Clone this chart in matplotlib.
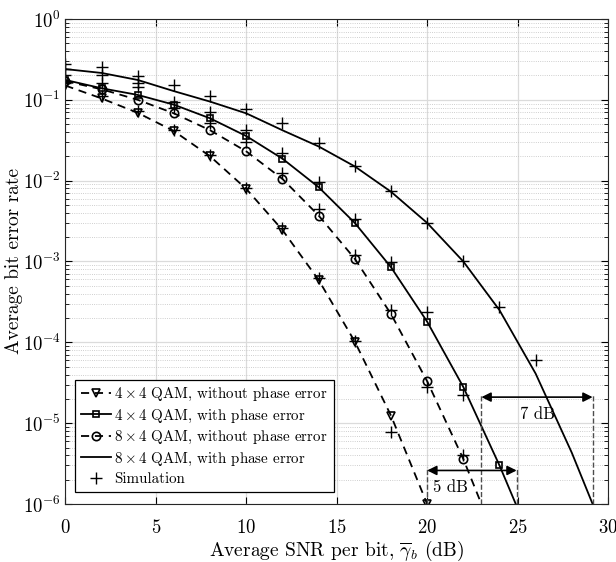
import matplotlib.pyplot as plt
from matplotlib.lines import Line2D

plt.rcParams['font.family'] = 'serif'
plt.rcParams['font.serif'] = ['cmr10']
plt.rcParams['mathtext.fontset'] = 'cm'
plt.rcParams['axes.unicode_minus'] = False
plt.rcParams['axes.formatter.use_mathtext'] = True

# theory curves
tri_snr = [0, 2, 4, 6, 8, 10, 12, 14, 16, 18, 20]
tri_ber = [0.15, 0.104, 0.069, 0.041, 0.020, 0.0079, 0.00245, 5.9e-4, 1.02e-4, 1.24e-5, 1.0e-6]

sq_snr = [0, 2, 4, 6, 8, 10, 12, 14, 16, 18, 20, 22, 24, 24.9]
sq_ber = [0.176, 0.139, 0.115, 0.087, 0.059, 0.0356, 0.0187, 0.0083, 0.0030, 8.5e-4, 1.8e-4, 2.8e-5, 3.0e-6, 1.0e-6]

circ_snr = [0, 2, 4, 6, 8, 10, 12, 14, 16, 18, 20, 22, 23]
circ_ber = [0.17, 0.135, 0.10, 0.068, 0.042, 0.023, 0.0105, 0.0037, 1.08e-3, 2.24e-4, 3.3e-5, 3.6e-6, 1.0e-6]

top_snr = [0, 2, 4, 6, 8, 10, 12, 14, 16, 18, 20, 22, 24, 26, 28, 29.15]
top_ber = [0.24, 0.215, 0.176, 0.128, 0.095, 0.068, 0.042, 0.0265, 0.015, 0.0073, 0.003, 1.0e-3, 2.5e-4, 4.1e-5, 4.3e-6, 1.0e-6]

# simulation points
sim_tri_snr = [0, 2, 4, 6, 8, 10, 12, 14, 16, 18]
sim_tri_ber = [0.16, 0.11, 0.072, 0.042, 0.021, 0.0082, 0.0026, 6.2e-4, 1.05e-4, 7.8e-6]
sim_sq_snr = [0, 2, 4, 6, 8, 10, 12, 14, 16, 18, 20, 22]
sim_sq_ber = [0.24, 0.203, 0.16, 0.095, 0.071, 0.042, 0.022, 0.0097, 0.0034, 9.9e-4, 2.4e-4, 2.2e-5]
sim_circ_snr = [0, 2, 4, 6, 8, 10, 12, 14, 16, 18, 20, 22]
sim_circ_ber = [0.20, 0.16, 0.143, 0.079, 0.051, 0.030, 0.0125, 0.0045, 1.2e-3, 2.5e-4, 2.8e-5, 4.0e-6]
sim_top_snr = [0, 2, 4, 6, 8, 10, 12, 14, 16, 18, 20, 22, 24, 26]
sim_top_ber = [0.28, 0.257, 0.197, 0.153, 0.111, 0.076, 0.051, 0.029, 0.0152, 0.0075, 0.003, 1.0e-3, 2.7e-4, 6.1e-5]

labels = [r'$4\times4$ QAM, without phase error',
          r'$4\times4$ QAM, with phase error',
          r'$8\times4$ QAM, without phase error',
          r'$8\times4$ QAM, with phase error',
          'Simulation']

fig = plt.figure(figsize=(6.16, 5.62), dpi=100)
ax = fig.add_axes([0.1063, 0.1032, 0.8807, 0.863])

lw = 1.3
dash = (4.5, 3.2)
ax.plot(tri_snr, tri_ber, '--', color='k', lw=lw, dashes=dash)
ax.plot(tri_snr, tri_ber, 'v', ms=6, mfc='none', mec='k', mew=1.2)
ax.plot(sq_snr, sq_ber, '-', color='k', lw=lw)
ax.plot(sq_snr[:-1], sq_ber[:-1], 's', ms=5, mfc='none', mec='k', mew=1.2)
ax.plot(circ_snr, circ_ber, '--', color='k', lw=lw, dashes=dash)
ax.plot(circ_snr[:-1], circ_ber[:-1], 'o', ms=6, mfc='none', mec='k', mew=1.2)
ax.plot(top_snr, top_ber, '-', color='k', lw=lw)

for s, b in [(sim_tri_snr, sim_tri_ber), (sim_sq_snr, sim_sq_ber),
             (sim_circ_snr, sim_circ_ber), (sim_top_snr, sim_top_ber)]:
    ax.plot(s, b, '+', ms=8, mec='k', mew=1.0)

# annotations
gap_col = '0.3'
ax.plot([23, 23], [1e-6, 2.3e-5], '--', color=gap_col, lw=1.0)
ax.plot([29.15, 29.15], [1e-6, 2.3e-5], '--', color=gap_col, lw=1.0)
ax.plot([20, 20], [1e-6, 2.9e-6], '--', color=gap_col, lw=1.0)
ax.plot([24.95, 24.95], [1e-6, 2.9e-6], '--', color=gap_col, lw=1.0)
arrow = dict(arrowstyle='<|-|>', color='k', lw=1.2, mutation_scale=14,
             shrinkA=0, shrinkB=0)
ax.annotate('', xy=(23, 2.1e-5), xytext=(29.15, 2.1e-5), arrowprops=arrow)
ax.annotate('', xy=(20, 2.6e-6), xytext=(24.95, 2.6e-6), arrowprops=arrow)
ax.text(26.1, 1.3e-5, '7 dB', ha='center', va='center', fontsize=12)
ax.text(21.3, 1.6e-6, '5 dB', ha='center', va='center', fontsize=12)

ax.set_yscale('log')
ax.set_xlim(0, 30)
ax.set_ylim(1e-6, 1)
ax.set_xticks([0, 5, 10, 15, 20, 25, 30])
ax.tick_params(which='both', direction='in', top=True, right=True, labelsize=13.5)
ax.tick_params(which='major', length=5)
ax.tick_params(which='minor', length=3)
ax.tick_params(axis='x', pad=11)
ax.grid(True, which='major', color='0.86', lw=0.9, ls='-')
ax.grid(True, which='minor', axis='y', color='0.75', lw=0.6, ls=':')
ax.set_axisbelow(True)
for sp in ax.spines.values():
    sp.set_color('0.15')

ax.set_xlabel(r'Average SNR per bit, $\overline{\gamma}_b$ (dB)', fontsize=14, labelpad=1)
ax.set_ylabel('Average bit error rate', fontsize=14, va='center')
ax.yaxis.set_label_coords(-0.094, 0.5)

handles = [
    Line2D([], [], ls='--', color='k', lw=lw, dashes=dash, marker='v', ms=6, mfc='none', mew=1.2),
    Line2D([], [], ls='-', color='k', lw=lw, marker='s', ms=5, mfc='none', mew=1.2),
    Line2D([], [], ls='--', color='k', lw=lw, dashes=dash, marker='o', ms=6, mfc='none', mew=1.2),
    Line2D([], [], ls='-', color='k', lw=lw),
    Line2D([], [], ls='none', color='k', marker='+', ms=8, mew=1.0),
]
leg = ax.legend(handles, labels, loc='lower left', bbox_to_anchor=(0.018, 0.025),
                fontsize=10.8, frameon=True, fancybox=False, framealpha=1,
                edgecolor='k', handlelength=2.0, handletextpad=0.2,
                labelspacing=0.3, borderpad=0.4, borderaxespad=0)
leg.get_frame().set_linewidth(0.9)

fig.savefig('out.png', dpi=100)
